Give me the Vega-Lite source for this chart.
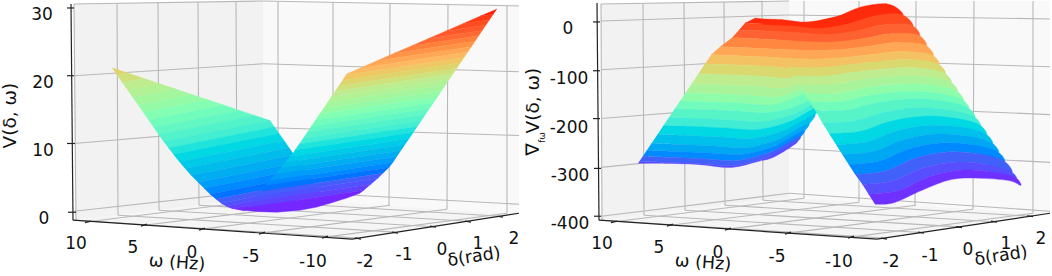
{"$schema":"https://vega.github.io/schema/vega-lite/v6.json","width":1052,"height":276,"autosize":{"type":"fit","contains":"padding"},"padding":0,"background":"white","view":{"stroke":null},"config":{"font":"DejaVu Sans"},
"resolve":{"scale":{"fill":"independent","stroke":"independent"}},
"encoding":{"x":{"field":"x","type":"quantitative","scale":{"domain":[0,1052]},"axis":null},"y":{"field":"y","type":"quantitative","scale":{"domain":[276,0]},"axis":null}},
"datasets":{"surface":[
{"s":1,"c":0.685,"x":112,"y":67},{"s":1,"c":0.685,"x":127.9,"y":72.3},{"s":1,"c":0.685,"x":117.2,"y":74.5},
{"s":2,"c":0.655,"x":117.2,"y":74.5},{"s":2,"c":0.655,"x":127.9,"y":72.3},{"s":2,"c":0.655,"x":143.9,"y":77.7},{"s":2,"c":0.655,"x":122.4,"y":82},
{"s":3,"c":0.625,"x":122.4,"y":82},{"s":3,"c":0.625,"x":143.9,"y":77.7},{"s":3,"c":0.625,"x":159.9,"y":83.1},{"s":3,"c":0.625,"x":127.7,"y":89.5},
{"s":4,"c":0.595,"x":127.7,"y":89.5},{"s":4,"c":0.595,"x":159.9,"y":83.1},{"s":4,"c":0.595,"x":175.8,"y":88.4},{"s":4,"c":0.595,"x":132.9,"y":97},
{"s":5,"c":0.565,"x":132.9,"y":97},{"s":5,"c":0.565,"x":175.8,"y":88.4},{"s":5,"c":0.565,"x":191.8,"y":93.8},{"s":5,"c":0.565,"x":138.1,"y":104.5},
{"s":6,"c":0.535,"x":138.1,"y":104.5},{"s":6,"c":0.535,"x":191.8,"y":93.8},{"s":6,"c":0.535,"x":207.7,"y":99.1},{"s":6,"c":0.535,"x":143.3,"y":112},
{"s":7,"c":0.505,"x":143.3,"y":112},{"s":7,"c":0.505,"x":207.7,"y":99.1},{"s":7,"c":0.505,"x":223.7,"y":104.5},{"s":7,"c":0.505,"x":148.5,"y":119.5},
{"s":8,"c":0.475,"x":148.5,"y":119.5},{"s":8,"c":0.475,"x":223.7,"y":104.5},{"s":8,"c":0.475,"x":239.6,"y":109.8},{"s":8,"c":0.475,"x":153.7,"y":127},
{"s":9,"c":0.445,"x":153.7,"y":127},{"s":9,"c":0.445,"x":239.6,"y":109.8},{"s":9,"c":0.445,"x":254.5,"y":114.8},{"s":9,"c":0.445,"x":158.6,"y":134},
{"s":10,"c":0.415,"x":158.6,"y":134},{"s":10,"c":0.415,"x":254.5,"y":114.8},{"s":10,"c":0.415,"x":270,"y":120},{"s":10,"c":0.415,"x":163.5,"y":141},
{"s":11,"c":0.385,"x":163.5,"y":141},{"s":11,"c":0.385,"x":270,"y":120},{"s":11,"c":0.385,"x":274.4,"y":126.3},{"s":11,"c":0.385,"x":168.5,"y":147.5},
{"s":12,"c":0.355,"x":168.5,"y":147.5},{"s":12,"c":0.355,"x":274.4,"y":126.3},{"s":12,"c":0.355,"x":279,"y":132.9},{"s":12,"c":0.355,"x":173.5,"y":154},
{"s":13,"c":0.325,"x":173.5,"y":154},{"s":13,"c":0.325,"x":279,"y":132.9},{"s":13,"c":0.325,"x":284,"y":140.1},{"s":13,"c":0.325,"x":179,"y":161},
{"s":14,"c":0.295,"x":179,"y":161},{"s":14,"c":0.295,"x":284,"y":140.1},{"s":14,"c":0.295,"x":289,"y":147.3},{"s":14,"c":0.295,"x":185,"y":168},
{"s":15,"c":0.265,"x":185,"y":168},{"s":15,"c":0.265,"x":289,"y":147.3},{"s":15,"c":0.265,"x":294,"y":154.4},{"s":15,"c":0.265,"x":191,"y":175},
{"s":16,"c":0.235,"x":191,"y":175},{"s":16,"c":0.235,"x":294,"y":154.4},{"s":16,"c":0.235,"x":299.1,"y":161.8},{"s":16,"c":0.235,"x":198,"y":182},
{"s":17,"c":0.205,"x":198,"y":182},{"s":17,"c":0.205,"x":299.1,"y":161.8},{"s":17,"c":0.205,"x":303.5,"y":168.1},{"s":17,"c":0.205,"x":204,"y":188},
{"s":18,"c":0.175,"x":204,"y":188},{"s":18,"c":0.175,"x":303.5,"y":168.1},{"s":18,"c":0.175,"x":308,"y":174.5},{"s":18,"c":0.175,"x":210,"y":194},
{"s":19,"c":0.145,"x":210,"y":194},{"s":19,"c":0.145,"x":308,"y":174.5},{"s":19,"c":0.145,"x":311.7,"y":179.8},{"s":19,"c":0.145,"x":216,"y":199},
{"s":20,"c":0.115,"x":216,"y":199},{"s":20,"c":0.115,"x":311.7,"y":179.8},{"s":20,"c":0.115,"x":314.8,"y":184.3},{"s":20,"c":0.115,"x":221,"y":203},
{"s":21,"c":0.085,"x":221,"y":203},{"s":21,"c":0.085,"x":314.8,"y":184.3},{"s":21,"c":0.085,"x":317.3,"y":187.9},{"s":21,"c":0.085,"x":226,"y":206},
{"s":22,"c":0.055,"x":226,"y":206},{"s":22,"c":0.055,"x":317.3,"y":187.9},{"s":22,"c":0.055,"x":319.5,"y":191},{"s":22,"c":0.055,"x":232,"y":208.5},
{"s":23,"c":0.025,"x":232,"y":208.5},{"s":23,"c":0.025,"x":319.5,"y":191},{"s":23,"c":0.025,"x":322.1,"y":194.8},{"s":23,"c":0.025,"x":243,"y":210.5},
{"s":31,"c":0.985,"x":497,"y":8},{"s":31,"c":0.985,"x":479.9,"y":15.4},{"s":31,"c":0.985,"x":493.4,"y":13.4},
{"s":32,"c":0.955,"x":493.4,"y":13.4},{"s":32,"c":0.955,"x":479.9,"y":15.4},{"s":32,"c":0.955,"x":462.8,"y":22.8},{"s":32,"c":0.955,"x":489.7,"y":18.8},
{"s":33,"c":0.925,"x":489.7,"y":18.8},{"s":33,"c":0.925,"x":462.8,"y":22.8},{"s":33,"c":0.925,"x":445.6,"y":30.3},{"s":33,"c":0.925,"x":486.1,"y":24.2},
{"s":34,"c":0.895,"x":486.1,"y":24.2},{"s":34,"c":0.895,"x":445.6,"y":30.3},{"s":34,"c":0.895,"x":428.5,"y":37.7},{"s":34,"c":0.895,"x":482.4,"y":29.6},
{"s":35,"c":0.865,"x":482.4,"y":29.6},{"s":35,"c":0.865,"x":428.5,"y":37.7},{"s":35,"c":0.865,"x":411.4,"y":45.1},{"s":35,"c":0.865,"x":478.8,"y":35},
{"s":36,"c":0.835,"x":478.8,"y":35},{"s":36,"c":0.835,"x":411.4,"y":45.1},{"s":36,"c":0.835,"x":394.2,"y":52.5},{"s":36,"c":0.835,"x":475.2,"y":40.4},
{"s":37,"c":0.805,"x":475.2,"y":40.4},{"s":37,"c":0.805,"x":394.2,"y":52.5},{"s":37,"c":0.805,"x":377.1,"y":59.9},{"s":37,"c":0.805,"x":471.5,"y":45.8},
{"s":38,"c":0.775,"x":471.5,"y":45.8},{"s":38,"c":0.775,"x":377.1,"y":59.9},{"s":38,"c":0.775,"x":359.9,"y":67.4},{"s":38,"c":0.775,"x":467.9,"y":51.2},
{"s":39,"c":0.745,"x":467.9,"y":51.2},{"s":39,"c":0.745,"x":359.9,"y":67.4},{"s":39,"c":0.745,"x":347,"y":73},{"s":39,"c":0.745,"x":346.1,"y":74.3},{"s":39,"c":0.745,"x":464.2,"y":56.6},
{"s":40,"c":0.715,"x":464.2,"y":56.6},{"s":40,"c":0.715,"x":346.1,"y":74.3},{"s":40,"c":0.715,"x":342.5,"y":79.7},{"s":40,"c":0.715,"x":460.6,"y":62},
{"s":41,"c":0.685,"x":460.6,"y":62},{"s":41,"c":0.685,"x":342.5,"y":79.7},{"s":41,"c":0.685,"x":338.8,"y":85.2},{"s":41,"c":0.685,"x":457,"y":67.4},
{"s":42,"c":0.655,"x":457,"y":67.4},{"s":42,"c":0.655,"x":338.8,"y":85.2},{"s":42,"c":0.655,"x":335.2,"y":90.6},{"s":42,"c":0.655,"x":453.3,"y":72.8},
{"s":43,"c":0.625,"x":453.3,"y":72.8},{"s":43,"c":0.625,"x":335.2,"y":90.6},{"s":43,"c":0.625,"x":331.5,"y":96},{"s":43,"c":0.625,"x":449.7,"y":78.2},
{"s":44,"c":0.595,"x":449.7,"y":78.2},{"s":44,"c":0.595,"x":331.5,"y":96},{"s":44,"c":0.595,"x":327.6,"y":101.8},{"s":44,"c":0.595,"x":445.8,"y":84},
{"s":45,"c":0.565,"x":445.8,"y":84},{"s":45,"c":0.565,"x":327.6,"y":101.8},{"s":45,"c":0.565,"x":323.6,"y":107.8},{"s":45,"c":0.565,"x":441.7,"y":90},
{"s":46,"c":0.535,"x":441.7,"y":90},{"s":46,"c":0.535,"x":323.6,"y":107.8},{"s":46,"c":0.535,"x":319.5,"y":113.7},{"s":46,"c":0.535,"x":437.7,"y":96},
{"s":47,"c":0.505,"x":437.7,"y":96},{"s":47,"c":0.505,"x":319.5,"y":113.7},{"s":47,"c":0.505,"x":315.5,"y":119.7},{"s":47,"c":0.505,"x":433.6,"y":102},
{"s":48,"c":0.475,"x":433.6,"y":102},{"s":48,"c":0.475,"x":315.5,"y":119.7},{"s":48,"c":0.475,"x":311.4,"y":125.7},{"s":48,"c":0.475,"x":429.6,"y":108},
{"s":49,"c":0.445,"x":429.6,"y":108},{"s":49,"c":0.445,"x":311.4,"y":125.7},{"s":49,"c":0.445,"x":307.4,"y":131.7},{"s":49,"c":0.445,"x":425.5,"y":114},
{"s":50,"c":0.415,"x":425.5,"y":114},{"s":50,"c":0.415,"x":307.4,"y":131.7},{"s":50,"c":0.415,"x":303.3,"y":137.7},{"s":50,"c":0.415,"x":421.5,"y":120},
{"s":51,"c":0.385,"x":421.5,"y":120},{"s":51,"c":0.385,"x":303.3,"y":137.7},{"s":51,"c":0.385,"x":299.3,"y":143.6},{"s":51,"c":0.385,"x":417.4,"y":126},
{"s":52,"c":0.355,"x":417.4,"y":126},{"s":52,"c":0.355,"x":299.3,"y":143.6},{"s":52,"c":0.355,"x":295.2,"y":149.6},{"s":52,"c":0.355,"x":413.4,"y":132},
{"s":53,"c":0.325,"x":413.4,"y":132},{"s":53,"c":0.325,"x":295.2,"y":149.6},{"s":53,"c":0.325,"x":293,"y":153},{"s":53,"c":0.325,"x":290,"y":156},{"s":53,"c":0.325,"x":409.3,"y":138},
{"s":54,"c":0.295,"x":409.3,"y":138},{"s":54,"c":0.295,"x":290,"y":156},{"s":54,"c":0.295,"x":285,"y":162},{"s":54,"c":0.295,"x":405.2,"y":144},
{"s":55,"c":0.265,"x":405.2,"y":144},{"s":55,"c":0.265,"x":285,"y":162},{"s":55,"c":0.265,"x":280,"y":168.2},{"s":55,"c":0.265,"x":401,"y":150},
{"s":56,"c":0.235,"x":401,"y":150},{"s":56,"c":0.235,"x":280,"y":168.2},{"s":56,"c":0.235,"x":275,"y":174.2},{"s":56,"c":0.235,"x":397,"y":156},
{"s":57,"c":0.205,"x":397,"y":156},{"s":57,"c":0.205,"x":275,"y":174.2},{"s":57,"c":0.205,"x":270,"y":180.3},{"s":57,"c":0.205,"x":393,"y":162},
{"s":58,"c":0.175,"x":393,"y":162},{"s":58,"c":0.175,"x":270,"y":180.3},{"s":58,"c":0.175,"x":265.5,"y":185.5},{"s":58,"c":0.175,"x":389,"y":167},
{"s":59,"c":0.145,"x":389,"y":167},{"s":59,"c":0.145,"x":265.5,"y":185.5},{"s":59,"c":0.145,"x":261,"y":191.3},{"s":59,"c":0.145,"x":383,"y":173},
{"s":60,"c":0.115,"x":383,"y":173},{"s":60,"c":0.115,"x":261,"y":191.3},{"s":60,"c":0.115,"x":257,"y":196.2},{"s":60,"c":0.115,"x":378,"y":178},
{"s":61,"c":0.085,"x":378,"y":178},{"s":61,"c":0.085,"x":257,"y":196.2},{"s":61,"c":0.085,"x":252.5,"y":201.8},{"s":61,"c":0.085,"x":371,"y":184},
{"s":62,"c":0.055,"x":371,"y":184},{"s":62,"c":0.055,"x":252.5,"y":201.8},{"s":62,"c":0.055,"x":247,"y":207.5},{"s":62,"c":0.055,"x":364,"y":190},
{"s":63,"c":0.02,"x":364,"y":190},{"s":63,"c":0.02,"x":247,"y":207.5},{"s":63,"c":0.02,"x":243,"y":210},{"s":63,"c":0.02,"x":260,"y":211.5},{"s":63,"c":0.02,"x":277,"y":212},{"s":63,"c":0.02,"x":300,"y":210},{"s":63,"c":0.02,"x":316,"y":207},{"s":63,"c":0.02,"x":330,"y":203},{"s":63,"c":0.02,"x":346,"y":198},{"s":63,"c":0.02,"x":360,"y":193},
{"s":101,"c":0.975,"x":755,"y":17},{"s":101,"c":0.975,"x":808,"y":21},{"s":101,"c":0.975,"x":887,"y":3},{"s":101,"c":0.975,"x":884,"y":6},{"s":101,"c":0.975,"x":830.6,"y":26},{"s":101,"c":0.975,"x":802,"y":24.5},{"s":101,"c":0.975,"x":745,"y":22},
{"s":102,"c":0.925,"x":745,"y":22},{"s":102,"c":0.925,"x":802,"y":24.5},{"s":102,"c":0.925,"x":830.6,"y":26},{"s":102,"c":0.925,"x":884,"y":6},{"s":102,"c":0.925,"x":883,"y":9},{"s":102,"c":0.925,"x":825.5,"y":33},{"s":102,"c":0.925,"x":796.6,"y":31.5},{"s":102,"c":0.925,"x":739,"y":29},
{"s":103,"c":0.875,"x":739,"y":29},{"s":103,"c":0.875,"x":796.6,"y":31.5},{"s":103,"c":0.875,"x":825.5,"y":33},{"s":103,"c":0.875,"x":883,"y":9},{"s":103,"c":0.875,"x":878,"y":17},{"s":103,"c":0.875,"x":819.6,"y":41},{"s":103,"c":0.875,"x":790.4,"y":39.5},{"s":103,"c":0.875,"x":732,"y":37},
{"s":104,"c":0.825,"x":732,"y":37},{"s":104,"c":0.825,"x":790.4,"y":39.5},{"s":104,"c":0.825,"x":819.6,"y":41},{"s":104,"c":0.825,"x":878,"y":17},{"s":104,"c":0.825,"x":872,"y":26},{"s":104,"c":0.825,"x":811.3,"y":50},{"s":104,"c":0.825,"x":780.8,"y":48.5},{"s":104,"c":0.825,"x":720,"y":46},
{"s":105,"c":0.775,"x":720,"y":46},{"s":105,"c":0.775,"x":780.8,"y":48.5},{"s":105,"c":0.775,"x":811.3,"y":50},{"s":105,"c":0.775,"x":872,"y":26},{"s":105,"c":0.775,"x":867,"y":34},{"s":105,"c":0.775,"x":804.6,"y":58},{"s":105,"c":0.775,"x":773.5,"y":56.5},{"s":105,"c":0.775,"x":711.2,"y":54},
{"s":106,"c":0.725,"x":711.2,"y":54},{"s":106,"c":0.725,"x":773.5,"y":56.5},{"s":106,"c":0.725,"x":804.6,"y":58},{"s":106,"c":0.725,"x":867,"y":34},{"s":106,"c":0.725,"x":861,"y":43},{"s":106,"c":0.725,"x":798.7,"y":67},{"s":106,"c":0.725,"x":767.4,"y":65.5},{"s":106,"c":0.725,"x":705,"y":63},
{"s":107,"c":0.675,"x":705,"y":63},{"s":107,"c":0.675,"x":767.4,"y":65.5},{"s":107,"c":0.675,"x":798.7,"y":67},{"s":107,"c":0.675,"x":861,"y":43},{"s":107,"c":0.675,"x":854.6,"y":53},{"s":107,"c":0.675,"x":792.1,"y":77},{"s":107,"c":0.675,"x":760.9,"y":75.5},{"s":107,"c":0.675,"x":698.4,"y":73},
{"s":108,"c":0.625,"x":698.4,"y":73},{"s":108,"c":0.625,"x":760.9,"y":75.5},{"s":108,"c":0.625,"x":792.1,"y":77},{"s":108,"c":0.625,"x":854.6,"y":53},{"s":108,"c":0.625,"x":848.2,"y":63},{"s":108,"c":0.625,"x":785.6,"y":87},{"s":108,"c":0.625,"x":754.3,"y":85.5},{"s":108,"c":0.625,"x":691.7,"y":83},
{"s":109,"c":0.575,"x":691.7,"y":83},{"s":109,"c":0.575,"x":754.3,"y":85.5},{"s":109,"c":0.575,"x":785.6,"y":87},{"s":109,"c":0.575,"x":848.2,"y":63},{"s":109,"c":0.575,"x":842.3,"y":72},{"s":109,"c":0.575,"x":779.6,"y":96},{"s":109,"c":0.575,"x":748.3,"y":94.5},{"s":109,"c":0.575,"x":685.6,"y":92},
{"s":110,"c":0.525,"x":685.6,"y":92},{"s":110,"c":0.525,"x":748.3,"y":94.5},{"s":110,"c":0.525,"x":779.6,"y":96},{"s":110,"c":0.525,"x":842.3,"y":72},{"s":110,"c":0.525,"x":837.2,"y":80},{"s":110,"c":0.525,"x":774.4,"y":104},{"s":110,"c":0.525,"x":743.1,"y":102.5},{"s":110,"c":0.525,"x":680.3,"y":100},
{"s":111,"c":0.475,"x":680.3,"y":100},{"s":111,"c":0.475,"x":743.1,"y":102.5},{"s":111,"c":0.475,"x":774.4,"y":104},{"s":111,"c":0.475,"x":837.2,"y":80},{"s":111,"c":0.475,"x":832,"y":88},{"s":111,"c":0.475,"x":800.6,"y":104},{"s":111,"c":0.475,"x":769.2,"y":112},{"s":111,"c":0.475,"x":737.7,"y":110.5},{"s":111,"c":0.475,"x":674.9,"y":108},
{"s":112,"c":0.425,"x":674.9,"y":108},{"s":112,"c":0.425,"x":737.7,"y":110.5},{"s":112,"c":0.425,"x":769.2,"y":112},{"s":112,"c":0.425,"x":800.6,"y":104},{"s":112,"c":0.425,"x":832,"y":88},{"s":112,"c":0.425,"x":826.1,"y":97},{"s":112,"c":0.425,"x":794.7,"y":113},{"s":112,"c":0.425,"x":763.2,"y":121},{"s":112,"c":0.425,"x":731.8,"y":119.5},{"s":112,"c":0.425,"x":668.9,"y":117},
{"s":113,"c":0.375,"x":668.9,"y":117},{"s":113,"c":0.375,"x":700.3,"y":118},{"s":113,"c":0.375,"x":731.8,"y":119.5},{"s":113,"c":0.375,"x":763.2,"y":121},{"s":113,"c":0.375,"x":794.7,"y":113},{"s":113,"c":0.375,"x":826.1,"y":97},{"s":113,"c":0.375,"x":821,"y":105},{"s":113,"c":0.375,"x":789.5,"y":121},{"s":113,"c":0.375,"x":758,"y":129},{"s":113,"c":0.375,"x":726.5,"y":127.5},{"s":113,"c":0.375,"x":695,"y":126},{"s":113,"c":0.375,"x":663.5,"y":125},
{"s":114,"c":0.325,"x":663.5,"y":125},{"s":114,"c":0.325,"x":695,"y":126},{"s":114,"c":0.325,"x":726.5,"y":127.5},{"s":114,"c":0.325,"x":758,"y":129},{"s":114,"c":0.325,"x":789.5,"y":121},{"s":114,"c":0.325,"x":821,"y":105},{"s":114,"c":0.325,"x":815.1,"y":114},{"s":114,"c":0.325,"x":783.6,"y":130},{"s":114,"c":0.325,"x":752.1,"y":138},{"s":114,"c":0.325,"x":720.5,"y":136.5},{"s":114,"c":0.325,"x":689,"y":135},{"s":114,"c":0.325,"x":657.5,"y":134},
{"s":115,"c":0.275,"x":657.5,"y":134},{"s":115,"c":0.275,"x":689,"y":135},{"s":115,"c":0.275,"x":720.5,"y":136.5},{"s":115,"c":0.275,"x":752.1,"y":138},{"s":115,"c":0.275,"x":783.6,"y":130},{"s":115,"c":0.275,"x":815.1,"y":114},{"s":115,"c":0.275,"x":809.3,"y":123},{"s":115,"c":0.275,"x":777.7,"y":139},{"s":115,"c":0.275,"x":746.1,"y":147},{"s":115,"c":0.275,"x":714.6,"y":145.5},{"s":115,"c":0.275,"x":683,"y":144},{"s":115,"c":0.275,"x":651.4,"y":143},
{"s":116,"c":0.225,"x":651.4,"y":143},{"s":116,"c":0.225,"x":683,"y":144},{"s":116,"c":0.225,"x":714.6,"y":145.5},{"s":116,"c":0.225,"x":746.1,"y":147},{"s":116,"c":0.225,"x":777.7,"y":139},{"s":116,"c":0.225,"x":809.3,"y":123},{"s":116,"c":0.225,"x":804.8,"y":130},{"s":116,"c":0.225,"x":773.2,"y":146},{"s":116,"c":0.225,"x":741.6,"y":154},{"s":116,"c":0.225,"x":710,"y":152.5},{"s":116,"c":0.225,"x":678.3,"y":151},{"s":116,"c":0.225,"x":646.7,"y":150},
{"s":117,"c":0.175,"x":646.7,"y":150},{"s":117,"c":0.175,"x":678.3,"y":151},{"s":117,"c":0.175,"x":710,"y":152.5},{"s":117,"c":0.175,"x":741.6,"y":154},{"s":117,"c":0.175,"x":773.2,"y":146},{"s":117,"c":0.175,"x":804.8,"y":130},{"s":117,"c":0.175,"x":800.9,"y":136},{"s":117,"c":0.175,"x":769.3,"y":152},{"s":117,"c":0.175,"x":737.6,"y":160},{"s":117,"c":0.175,"x":706,"y":158.5},{"s":117,"c":0.175,"x":674.3,"y":157},{"s":117,"c":0.175,"x":642.7,"y":156},
{"s":118,"c":0.125,"x":642.7,"y":156},{"s":118,"c":0.125,"x":674.3,"y":157},{"s":118,"c":0.125,"x":706,"y":158.5},{"s":118,"c":0.125,"x":737.6,"y":160},{"s":118,"c":0.125,"x":769.3,"y":152},{"s":118,"c":0.125,"x":800.9,"y":136},{"s":118,"c":0.125,"x":797.6,"y":141},{"s":118,"c":0.125,"x":766,"y":157},{"s":118,"c":0.125,"x":734.3,"y":165},{"s":118,"c":0.125,"x":702.6,"y":163.5},{"s":118,"c":0.125,"x":671,"y":162},{"s":118,"c":0.125,"x":639.3,"y":161},
{"s":119,"c":0.07,"x":639.3,"y":161},{"s":119,"c":0.07,"x":671,"y":162},{"s":119,"c":0.07,"x":702.6,"y":163.5},{"s":119,"c":0.07,"x":734.3,"y":165},{"s":119,"c":0.07,"x":766,"y":157},{"s":119,"c":0.07,"x":797.6,"y":141},{"s":119,"c":0.07,"x":797,"y":142},{"s":119,"c":0.07,"x":773,"y":157},{"s":119,"c":0.07,"x":758,"y":161},{"s":119,"c":0.07,"x":732,"y":167},{"s":119,"c":0.07,"x":698,"y":164},{"s":119,"c":0.07,"x":665,"y":163},{"s":119,"c":0.07,"x":638,"y":163},
{"s":201,"c":0.975,"x":757,"y":18},{"s":201,"c":0.975,"x":783,"y":18.8},{"s":201,"c":0.975,"x":809,"y":21.6},{"s":201,"c":0.975,"x":835,"y":16.4},{"s":201,"c":0.975,"x":861,"y":6},{"s":201,"c":0.975,"x":887,"y":3},{"s":201,"c":0.975,"x":897,"y":7},{"s":201,"c":0.975,"x":903,"y":14},{"s":201,"c":0.975,"x":875.2,"y":14.9},{"s":201,"c":0.975,"x":847.4,"y":23.2},{"s":201,"c":0.975,"x":819.6,"y":27.5},{"s":201,"c":0.975,"x":791.8,"y":25.3},{"s":201,"c":0.975,"x":764,"y":24},
{"s":202,"c":0.925,"x":764,"y":24},{"s":202,"c":0.925,"x":791.8,"y":25.3},{"s":202,"c":0.925,"x":819.6,"y":27.5},{"s":202,"c":0.925,"x":847.4,"y":23.2},{"s":202,"c":0.925,"x":875.2,"y":14.9},{"s":202,"c":0.925,"x":903,"y":14},{"s":202,"c":0.925,"x":913,"y":25},{"s":202,"c":0.925,"x":884.4,"y":23.9},{"s":202,"c":0.925,"x":855.8,"y":30.1},{"s":202,"c":0.925,"x":827.2,"y":33.6},{"s":202,"c":0.925,"x":798.6,"y":31.9},{"s":202,"c":0.925,"x":770,"y":30},
{"s":203,"c":0.875,"x":770,"y":30},{"s":203,"c":0.875,"x":798.6,"y":31.9},{"s":203,"c":0.875,"x":827.2,"y":33.6},{"s":203,"c":0.875,"x":855.8,"y":30.1},{"s":203,"c":0.875,"x":884.4,"y":23.9},{"s":203,"c":0.875,"x":913,"y":25},{"s":203,"c":0.875,"x":919.8,"y":35},{"s":203,"c":0.875,"x":891,"y":32.8},{"s":203,"c":0.875,"x":862.3,"y":37.8},{"s":203,"c":0.875,"x":833.5,"y":41.1},{"s":203,"c":0.875,"x":804.8,"y":40.7},{"s":203,"c":0.875,"x":776,"y":39},
{"s":204,"c":0.825,"x":776,"y":39},{"s":204,"c":0.825,"x":804.8,"y":40.7},{"s":204,"c":0.825,"x":833.5,"y":41.1},{"s":204,"c":0.825,"x":862.3,"y":37.8},{"s":204,"c":0.825,"x":891,"y":32.8},{"s":204,"c":0.825,"x":919.8,"y":35},{"s":204,"c":0.825,"x":926.5,"y":45},{"s":204,"c":0.825,"x":897.4,"y":41.6},{"s":204,"c":0.825,"x":868.3,"y":45.5},{"s":204,"c":0.825,"x":839.2,"y":48.8},{"s":204,"c":0.825,"x":810.1,"y":49.5},{"s":204,"c":0.825,"x":781,"y":48},
{"s":205,"c":0.775,"x":781,"y":48},{"s":205,"c":0.775,"x":810.1,"y":49.5},{"s":205,"c":0.775,"x":839.2,"y":48.8},{"s":205,"c":0.775,"x":868.3,"y":45.5},{"s":205,"c":0.775,"x":897.4,"y":41.6},{"s":205,"c":0.775,"x":926.5,"y":45},{"s":205,"c":0.775,"x":933.3,"y":55},{"s":205,"c":0.775,"x":903.6,"y":50.6},{"s":205,"c":0.775,"x":874,"y":53.4},{"s":205,"c":0.775,"x":844.3,"y":56.6},{"s":205,"c":0.775,"x":814.7,"y":58.3},{"s":205,"c":0.775,"x":785,"y":57},
{"s":206,"c":0.725,"x":785,"y":57},{"s":206,"c":0.725,"x":814.7,"y":58.3},{"s":206,"c":0.725,"x":844.3,"y":56.6},{"s":206,"c":0.725,"x":874,"y":53.4},{"s":206,"c":0.725,"x":903.6,"y":50.6},{"s":206,"c":0.725,"x":933.3,"y":55},{"s":206,"c":0.725,"x":939.3,"y":64},{"s":206,"c":0.725,"x":909,"y":58.8},{"s":206,"c":0.725,"x":878.8,"y":60.8},{"s":206,"c":0.725,"x":848.5,"y":64},{"s":206,"c":0.725,"x":818.3,"y":67},{"s":206,"c":0.725,"x":788,"y":66},
{"s":207,"c":0.675,"x":788,"y":66},{"s":207,"c":0.675,"x":818.3,"y":67},{"s":207,"c":0.675,"x":848.5,"y":64},{"s":207,"c":0.675,"x":878.8,"y":60.8},{"s":207,"c":0.675,"x":909,"y":58.8},{"s":207,"c":0.675,"x":939.3,"y":64},{"s":207,"c":0.675,"x":945.4,"y":73},{"s":207,"c":0.675,"x":914.9,"y":67},{"s":207,"c":0.675,"x":884.4,"y":68.3},{"s":207,"c":0.675,"x":854,"y":71.6},{"s":207,"c":0.675,"x":823.5,"y":75.6},{"s":207,"c":0.675,"x":793,"y":75},
{"s":208,"c":0.625,"x":793,"y":75},{"s":208,"c":0.625,"x":823.5,"y":75.6},{"s":208,"c":0.625,"x":854,"y":71.6},{"s":208,"c":0.625,"x":884.4,"y":68.3},{"s":208,"c":0.625,"x":914.9,"y":67},{"s":208,"c":0.625,"x":945.4,"y":73},{"s":208,"c":0.625,"x":951.5,"y":82},{"s":208,"c":0.625,"x":921,"y":75.4},{"s":208,"c":0.625,"x":890.5,"y":75.9},{"s":208,"c":0.625,"x":859.9,"y":79.3},{"s":208,"c":0.625,"x":829.4,"y":84.3},{"s":208,"c":0.625,"x":798.9,"y":84},
{"s":209,"c":0.575,"x":798.9,"y":84},{"s":209,"c":0.575,"x":829.4,"y":84.3},{"s":209,"c":0.575,"x":859.9,"y":79.3},{"s":209,"c":0.575,"x":890.5,"y":75.9},{"s":209,"c":0.575,"x":921,"y":75.4},{"s":209,"c":0.575,"x":951.5,"y":82},{"s":209,"c":0.575,"x":957.6,"y":91},{"s":209,"c":0.575,"x":927,"y":83.7},{"s":209,"c":0.575,"x":896.4,"y":83.6},{"s":209,"c":0.575,"x":865.8,"y":87.1},{"s":209,"c":0.575,"x":835.2,"y":93.1},{"s":209,"c":0.575,"x":804.6,"y":93},
{"s":210,"c":0.525,"x":804.6,"y":93},{"s":210,"c":0.525,"x":835.2,"y":93.1},{"s":210,"c":0.525,"x":865.8,"y":87.1},{"s":210,"c":0.525,"x":896.4,"y":83.6},{"s":210,"c":0.525,"x":927,"y":83.7},{"s":210,"c":0.525,"x":957.6,"y":91},{"s":210,"c":0.525,"x":963.6,"y":100},{"s":210,"c":0.525,"x":932.8,"y":91.9},{"s":210,"c":0.525,"x":902,"y":91},{"s":210,"c":0.525,"x":871.3,"y":94.4},{"s":210,"c":0.525,"x":840.5,"y":101},{"s":210,"c":0.525,"x":809.7,"y":101},
{"s":211,"c":0.475,"x":809.7,"y":101},{"s":211,"c":0.475,"x":840.5,"y":101},{"s":211,"c":0.475,"x":871.3,"y":94.4},{"s":211,"c":0.475,"x":902,"y":91},{"s":211,"c":0.475,"x":932.8,"y":91.9},{"s":211,"c":0.475,"x":963.6,"y":100},{"s":211,"c":0.475,"x":969,"y":108},{"s":211,"c":0.475,"x":938.3,"y":99.6},{"s":211,"c":0.475,"x":907.6,"y":98.3},{"s":211,"c":0.475,"x":876.8,"y":102},{"s":211,"c":0.475,"x":846.1,"y":109.6},{"s":211,"c":0.475,"x":815.4,"y":110},
{"s":212,"c":0.425,"x":815.4,"y":110},{"s":212,"c":0.425,"x":846.1,"y":109.6},{"s":212,"c":0.425,"x":876.8,"y":102},{"s":212,"c":0.425,"x":907.6,"y":98.3},{"s":212,"c":0.425,"x":938.3,"y":99.6},{"s":212,"c":0.425,"x":969,"y":108},{"s":212,"c":0.425,"x":975.1,"y":117},{"s":212,"c":0.425,"x":944.5,"y":108.8},{"s":212,"c":0.425,"x":913.9,"y":107.6},{"s":212,"c":0.425,"x":883.3,"y":111.9},{"s":212,"c":0.425,"x":852.7,"y":120.8},{"s":212,"c":0.425,"x":822.1,"y":122},
{"s":213,"c":0.375,"x":822.1,"y":122},{"s":213,"c":0.375,"x":852.7,"y":120.8},{"s":213,"c":0.375,"x":883.3,"y":111.9},{"s":213,"c":0.375,"x":913.9,"y":107.6},{"s":213,"c":0.375,"x":944.5,"y":108.8},{"s":213,"c":0.375,"x":975.1,"y":117},{"s":213,"c":0.375,"x":980.5,"y":125},{"s":213,"c":0.375,"x":950.2,"y":116.9},{"s":213,"c":0.375,"x":919.9,"y":115.9},{"s":213,"c":0.375,"x":889.6,"y":120.9},{"s":213,"c":0.375,"x":859.3,"y":131},{"s":213,"c":0.375,"x":829,"y":133},
{"s":214,"c":0.325,"x":829,"y":133},{"s":214,"c":0.325,"x":859.3,"y":131},{"s":214,"c":0.325,"x":889.6,"y":120.9},{"s":214,"c":0.325,"x":919.9,"y":115.9},{"s":214,"c":0.325,"x":950.2,"y":116.9},{"s":214,"c":0.325,"x":980.5,"y":125},{"s":214,"c":0.325,"x":986.6,"y":134},{"s":214,"c":0.325,"x":956.5,"y":126},{"s":214,"c":0.325,"x":926.4,"y":125},{"s":214,"c":0.325,"x":896.2,"y":130.4},{"s":214,"c":0.325,"x":866.1,"y":141.4},{"s":214,"c":0.325,"x":836,"y":144},
{"s":215,"c":0.275,"x":836,"y":144},{"s":215,"c":0.275,"x":866.1,"y":141.4},{"s":215,"c":0.275,"x":896.2,"y":130.4},{"s":215,"c":0.275,"x":926.4,"y":125},{"s":215,"c":0.275,"x":956.5,"y":126},{"s":215,"c":0.275,"x":986.6,"y":134},{"s":215,"c":0.275,"x":992.7,"y":143},{"s":215,"c":0.275,"x":962.6,"y":134.9},{"s":215,"c":0.275,"x":932.5,"y":133.8},{"s":215,"c":0.275,"x":902.5,"y":139.4},{"s":215,"c":0.275,"x":872.4,"y":151.1},{"s":215,"c":0.275,"x":842.3,"y":154},
{"s":216,"c":0.225,"x":842.3,"y":154},{"s":216,"c":0.225,"x":872.4,"y":151.1},{"s":216,"c":0.225,"x":902.5,"y":139.4},{"s":216,"c":0.225,"x":932.5,"y":133.8},{"s":216,"c":0.225,"x":962.6,"y":134.9},{"s":216,"c":0.225,"x":992.7,"y":143},{"s":216,"c":0.225,"x":998.7,"y":152},{"s":216,"c":0.225,"x":968.7,"y":143.8},{"s":216,"c":0.225,"x":938.7,"y":142.7},{"s":216,"c":0.225,"x":908.7,"y":148.5},{"s":216,"c":0.225,"x":878.7,"y":160.8},{"s":216,"c":0.225,"x":848.7,"y":164},
{"s":217,"c":0.175,"x":848.7,"y":164},{"s":217,"c":0.175,"x":878.7,"y":160.8},{"s":217,"c":0.175,"x":908.7,"y":148.5},{"s":217,"c":0.175,"x":938.7,"y":142.7},{"s":217,"c":0.175,"x":968.7,"y":143.8},{"s":217,"c":0.175,"x":998.7,"y":152},{"s":217,"c":0.175,"x":1004.8,"y":161},{"s":217,"c":0.175,"x":974.8,"y":152.8},{"s":217,"c":0.175,"x":944.9,"y":151.7},{"s":217,"c":0.175,"x":914.9,"y":157.8},{"s":217,"c":0.175,"x":885,"y":170.5},{"s":217,"c":0.175,"x":855,"y":174},
{"s":218,"c":0.125,"x":855,"y":174},{"s":218,"c":0.125,"x":885,"y":170.5},{"s":218,"c":0.125,"x":914.9,"y":157.8},{"s":218,"c":0.125,"x":944.9,"y":151.7},{"s":218,"c":0.125,"x":974.8,"y":152.8},{"s":218,"c":0.125,"x":1004.8,"y":161},{"s":218,"c":0.125,"x":1012.2,"y":172},{"s":218,"c":0.125,"x":982.2,"y":163.5},{"s":218,"c":0.125,"x":952.2,"y":162},{"s":218,"c":0.125,"x":922.3,"y":167.9},{"s":218,"c":0.125,"x":892.3,"y":180.6},{"s":218,"c":0.125,"x":862.3,"y":184},
{"s":219,"c":0.075,"x":862.3,"y":184},{"s":219,"c":0.075,"x":892.3,"y":180.6},{"s":219,"c":0.075,"x":922.3,"y":167.9},{"s":219,"c":0.075,"x":952.2,"y":162},{"s":219,"c":0.075,"x":982.2,"y":163.5},{"s":219,"c":0.075,"x":1012.2,"y":172},{"s":219,"c":0.075,"x":1016.6,"y":178},{"s":219,"c":0.075,"x":987,"y":171},{"s":219,"c":0.075,"x":957.4,"y":170},{"s":219,"c":0.075,"x":927.8,"y":177},{"s":219,"c":0.075,"x":898.2,"y":190.5},{"s":219,"c":0.075,"x":868.6,"y":194},
{"s":220,"c":0.03,"x":868.6,"y":194},{"s":220,"c":0.03,"x":898.2,"y":190.5},{"s":220,"c":0.03,"x":927.8,"y":177},{"s":220,"c":0.03,"x":957.4,"y":170},{"s":220,"c":0.03,"x":987,"y":171},{"s":220,"c":0.03,"x":1016.6,"y":178},{"s":220,"c":0.03,"x":1021,"y":185},{"s":220,"c":0.03,"x":1012,"y":181},{"s":220,"c":0.03,"x":982,"y":178},{"s":220,"c":0.03,"x":952,"y":179},{"s":220,"c":0.03,"x":922,"y":190},{"s":220,"c":0.03,"x":892,"y":203},{"s":220,"c":0.03,"x":875,"y":204}
]},
"layer":[
{"data":{"values":[
{"p":"a","n":"left","x":74,"y":3},{"p":"a","n":"left","x":263,"y":0},{"p":"a","n":"left","x":263,"y":197},{"p":"a","n":"left","x":75,"y":220},
{"p":"b","n":"right","x":263,"y":0},{"p":"b","n":"right","x":519,"y":3},{"p":"b","n":"right","x":519,"y":214},{"p":"b","n":"right","x":263,"y":197},
{"p":"c","n":"floor","x":75,"y":220},{"p":"c","n":"floor","x":263,"y":197},{"p":"c","n":"floor","x":519,"y":214},{"p":"c","n":"floor","x":352,"y":239},
{"p":"d","n":"left","x":601,"y":3},{"p":"d","n":"left","x":789,"y":0},{"p":"d","n":"left","x":789,"y":197},{"p":"d","n":"left","x":601,"y":220},
{"p":"e","n":"right","x":789,"y":0},{"p":"e","n":"right","x":1050,"y":0},{"p":"e","n":"right","x":1050,"y":214},{"p":"e","n":"right","x":789,"y":197},
{"p":"f","n":"floor","x":601,"y":220},{"p":"f","n":"floor","x":789,"y":197},{"p":"f","n":"floor","x":1050,"y":214},{"p":"f","n":"floor","x":877,"y":239}
]},
"transform":[{"window":[{"op":"row_number","as":"o"}]}],
"mark":{"type":"line","filled":true,"strokeWidth":0},
"encoding":{"order":{"field":"o","type":"quantitative"},"detail":{"field":"p"},"fill":{"field":"n","type":"nominal","legend":null,"scale":{"domain":["left","right","floor"],"range":["#f2f2f2","#f9f9f9","#f5f5f5"]}}}},
{"data":{"values":[
{"x":74,"y":3,"x2":76,"y2":220},{"x":117,"y":2,"x2":118,"y2":215},{"x":158,"y":1,"x2":159,"y2":210},{"x":198,"y":1,"x2":199,"y2":205},{"x":236,"y":0,"x2":237,"y2":200},
{"x":278,"y":0,"x2":278,"y2":198},{"x":333,"y":1,"x2":333,"y2":202},{"x":390,"y":2,"x2":389,"y2":205},{"x":448,"y":3,"x2":447,"y2":209},{"x":507,"y":5,"x2":507,"y2":213},
{"x":74,"y":3,"x2":263,"y2":0},{"x":74,"y":75,"x2":263,"y2":63},{"x":74,"y":143,"x2":263,"y2":127},{"x":74,"y":211,"x2":263,"y2":190},
{"x":263,"y":0,"x2":519,"y2":5},{"x":263,"y":63,"x2":519,"y2":71},{"x":263,"y":127,"x2":519,"y2":135},{"x":263,"y":190,"x2":519,"y2":204},
{"x":88,"y":221.5,"x2":278,"y2":198},{"x":144,"y":225,"x2":333,"y2":202},{"x":202,"y":229,"x2":390,"y2":205},{"x":262,"y":233,"x2":447,"y2":209},{"x":325,"y":237,"x2":507,"y2":213},
{"x":76,"y":220,"x2":357,"y2":238},{"x":118,"y":215,"x2":395,"y2":232},{"x":159,"y":210,"x2":433,"y2":226.5},{"x":199,"y":205,"x2":468,"y2":221},{"x":237,"y":200,"x2":500,"y2":216},
{"x":601,"y":3,"x2":602,"y2":220},{"x":643,"y":2,"x2":644,"y2":215},{"x":684,"y":1,"x2":685,"y2":210},{"x":724,"y":1,"x2":725,"y2":205},{"x":762,"y":0,"x2":763,"y2":200},
{"x":804,"y":0,"x2":804,"y2":198},{"x":859,"y":0,"x2":859,"y2":202},{"x":916,"y":0,"x2":915,"y2":205},{"x":974,"y":0,"x2":973,"y2":209},{"x":1033,"y":0,"x2":1033,"y2":213},
{"x":601,"y":3,"x2":789,"y2":0},{"x":601,"y":20,"x2":789,"y2":14},{"x":601,"y":69,"x2":789,"y2":58},{"x":601,"y":118,"x2":789,"y2":103},{"x":601,"y":167,"x2":789,"y2":148},{"x":601,"y":216,"x2":789,"y2":193},
{"x":789,"y":14,"x2":1050,"y2":18},{"x":789,"y":58,"x2":1050,"y2":66},{"x":789,"y":103,"x2":1050,"y2":114},{"x":789,"y":148,"x2":1050,"y2":162},{"x":789,"y":193,"x2":1050,"y2":211},
{"x":614,"y":221.5,"x2":804,"y2":198},{"x":670,"y":225,"x2":859,"y2":202},{"x":728,"y":229,"x2":916,"y2":205},{"x":788,"y":233,"x2":973,"y2":209},{"x":851,"y":237,"x2":1033,"y2":213},
{"x":602,"y":220,"x2":883,"y2":238},{"x":644,"y":215,"x2":921,"y2":232.4},{"x":685,"y":210,"x2":959,"y2":226.7},{"x":725,"y":205,"x2":994,"y2":221.5},{"x":763,"y":200,"x2":1030,"y2":216}
]},
"mark":{"type":"rule","stroke":"#b8b8b8","strokeWidth":1.1},
"encoding":{"x2":{"field":"x2"},"y2":{"field":"y2"}}},
{"data":{"name":"surface"},
"transform":[{"filter":"datum.s < 100"},{"window":[{"op":"row_number","as":"o"}]}],
"mark":{"type":"line","filled":true,"strokeWidth":0.4},
"encoding":{"order":{"field":"o","type":"quantitative"},"detail":{"field":"s"},
"fill":{"field":"c","type":"quantitative","legend":null,"scale":{"domain":[0,0.125,0.25,0.375,0.5,0.625,0.75,0.875,1],"range":["#8000ff","#4062fa","#00b5eb","#40ecd4","#80ffb4","#bfec8e","#ffb562","#ff6232","#ff0000"]}},
"stroke":{"field":"c","type":"quantitative","legend":null,"scale":{"domain":[0,0.125,0.25,0.375,0.5,0.625,0.75,0.875,1],"range":["#8000ff","#4062fa","#00b5eb","#40ecd4","#80ffb4","#bfec8e","#ffb562","#ff6232","#ff0000"]}}}},
{"data":{"name":"surface"},
"transform":[{"filter":"datum.s >= 100"},{"window":[{"op":"row_number","as":"o"}]}],
"mark":{"type":"line","filled":true,"strokeWidth":0.4,"interpolate":"catmull-rom"},
"encoding":{"order":{"field":"o","type":"quantitative"},"detail":{"field":"s"},
"fill":{"field":"c","type":"quantitative","legend":null,"scale":{"domain":[0,0.125,0.25,0.375,0.5,0.625,0.75,0.875,1],"range":["#8000ff","#4062fa","#00b5eb","#40ecd4","#80ffb4","#bfec8e","#ffb562","#ff6232","#ff0000"]}},
"stroke":{"field":"c","type":"quantitative","legend":null,"scale":{"domain":[0,0.125,0.25,0.375,0.5,0.625,0.75,0.875,1],"range":["#8000ff","#4062fa","#00b5eb","#40ecd4","#80ffb4","#bfec8e","#ffb562","#ff6232","#ff0000"]}}}},
{"data":{"values":[
{"x":71,"y":3,"x2":73,"y2":220},{"x":73,"y":220,"x2":352,"y2":239},{"x":352,"y":239,"x2":519,"y2":213},
{"x":67,"y":7,"x2":74,"y2":7},{"x":67,"y":75,"x2":74,"y2":75},{"x":67,"y":143,"x2":75,"y2":143},{"x":68,"y":212,"x2":76,"y2":212},
{"x":85,"y":222.5,"x2":91,"y2":221},{"x":141,"y":226,"x2":147,"y2":224},{"x":199,"y":230,"x2":205,"y2":228},{"x":259,"y":234,"x2":265,"y2":232},{"x":322,"y":238,"x2":328,"y2":236},
{"x":355,"y":237.8,"x2":361,"y2":239},{"x":392,"y":232,"x2":398,"y2":233},{"x":430,"y":226,"x2":436,"y2":227},{"x":465,"y":221,"x2":471,"y2":222},{"x":497,"y":216,"x2":503,"y2":217},
{"x":597,"y":2,"x2":599,"y2":220},{"x":599,"y":220,"x2":877,"y2":239},{"x":877,"y":239,"x2":1050,"y2":213},
{"x":593,"y":21,"x2":600,"y2":21},{"x":593,"y":70,"x2":600,"y2":70},{"x":593,"y":118,"x2":600,"y2":118},{"x":594,"y":168,"x2":601,"y2":168},{"x":594,"y":216,"x2":601,"y2":216},
{"x":611,"y":222.5,"x2":617,"y2":221},{"x":667,"y":226,"x2":673,"y2":224},{"x":725,"y":230,"x2":731,"y2":228},{"x":785,"y":234,"x2":791,"y2":232},{"x":848,"y":238,"x2":854,"y2":236},
{"x":881,"y":238,"x2":887,"y2":239},{"x":918,"y":232,"x2":924,"y2":233},{"x":956,"y":226.5,"x2":962,"y2":227.5},{"x":991,"y":221,"x2":997,"y2":222},{"x":1027,"y":215.5,"x2":1033,"y2":216.5}
]},
"mark":{"type":"rule","stroke":"#222222","strokeWidth":1.2},
"encoding":{"x2":{"field":"x2"},"y2":{"field":"y2"}}},
{"data":{"values":[
{"t":"30","x":42,"y":14},{"t":"20","x":43,"y":82},{"t":"10","x":43,"y":151},{"t":"0","x":44,"y":219},
{"t":"10","x":76,"y":244},{"t":"5","x":133,"y":248},{"t":"0","x":192,"y":253},{"t":"-5","x":251,"y":257},{"t":"-10","x":313,"y":262},
{"t":"-2","x":365,"y":262},{"t":"-1","x":404,"y":255},{"t":"0","x":442,"y":250},{"t":"1","x":478,"y":244},{"t":"2","x":514,"y":239},
{"t":"0","x":568,"y":28},{"t":"-100","x":569,"y":78},{"t":"-200","x":569,"y":127},{"t":"-300","x":570,"y":176},{"t":"-400","x":570,"y":224},
{"t":"10","x":602,"y":244},{"t":"5","x":659,"y":248},{"t":"0","x":718,"y":253},{"t":"-5","x":777,"y":257},{"t":"-10","x":839,"y":262},
{"t":"-2","x":891,"y":262},{"t":"-1","x":930,"y":256},{"t":"0","x":968,"y":250},{"t":"1","x":1006,"y":244},{"t":"2","x":1041,"y":239}
]},
"mark":{"type":"text","fontSize":17,"align":"center","baseline":"middle","color":"#111111"},
"encoding":{"text":{"field":"t"}}},
{"data":{"values":[{"t":"ω (Hz)","x":177,"y":263},{"t":"ω (Hz)","x":703,"y":263}]},
"mark":{"type":"text","fontSize":17.5,"align":"center","baseline":"middle","angle":4,"color":"#111111"},
"encoding":{"text":{"field":"t"}}},
{"data":{"values":[{"t":"δ(rad)","x":474,"y":257},{"t":"δ(rad)","x":1001,"y":256}]},
"mark":{"type":"text","fontSize":17.5,"align":"center","baseline":"middle","angle":351,"color":"#111111"},
"encoding":{"text":{"field":"t"}}},
{"data":{"values":[{"t":"V(δ, ω)","x":10,"y":115},{"t":"V(δ, ω)","x":533,"y":100},{"t":"∇","x":533,"y":149}]},
"mark":{"type":"text","fontSize":18.5,"align":"center","baseline":"middle","angle":270,"color":"#111111"},
"encoding":{"text":{"field":"t"}}},
{"data":{"values":[{"t":"fω","x":542,"y":137}]},
"mark":{"type":"text","fontSize":9,"align":"center","baseline":"middle","angle":270,"color":"#111111"},
"encoding":{"text":{"field":"t"}}}
]}
